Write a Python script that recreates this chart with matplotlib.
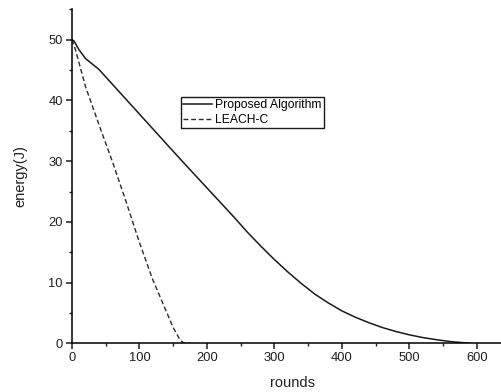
import matplotlib
matplotlib.use("Agg")
import matplotlib.pyplot as plt
from matplotlib.ticker import MultipleLocator

# energy remaining per round
proposed_rounds = [0, 3, 10, 20, 40, 80, 120, 160, 200, 240, 260, 280, 300, 320, 340,
                   360, 380, 400, 420, 440, 460, 480, 500, 520, 540, 560, 580, 590]
proposed_energy = [50.0, 49.8, 48.4, 46.9, 45.1, 40.2, 35.3, 30.4, 25.6, 20.8, 18.3,
                   16.0, 13.8, 11.75, 9.85, 8.1, 6.65, 5.35, 4.3, 3.4, 2.6, 1.95,
                   1.4, 0.95, 0.6, 0.3, 0.1, 0.0]

leach_rounds = [0, 5, 20, 40, 60, 80, 100, 120, 140, 150, 160, 165, 175]
leach_energy = [50.0, 48.4, 42.3, 36.0, 29.9, 23.4, 16.6, 10.4, 5.2, 2.6, 0.6, 0.1, 0.0]

plt.rcParams['font.family'] = ['Liberation Sans', 'DejaVu Sans']

fig = plt.figure(figsize=(5.02, 3.92), dpi=100)
ax = fig.add_axes([0.1434, 0.1242, 0.8546, 0.852])

ax.plot(proposed_rounds, proposed_energy, color='#1a1a1a', lw=1.1, label='Proposed Algorithm')
ax.plot(leach_rounds, leach_energy, color='#2a2a2a', lw=1.0, dashes=(3.5, 2.0), label='LEACH-C')

ax.set_xlim(0, 636)
ax.set_ylim(0, 55)
ax.xaxis.set_major_locator(MultipleLocator(100))
ax.xaxis.set_minor_locator(MultipleLocator(50))
ax.yaxis.set_major_locator(MultipleLocator(10))
ax.yaxis.set_minor_locator(MultipleLocator(5))

for side in ['top', 'right']:
    ax.spines[side].set_visible(False)
for side in ['left', 'bottom']:
    ax.spines[side].set_linewidth(1.1)

ax.tick_params(which='major', direction='out', length=4, width=1.1, labelsize=9.3, pad=2.5,
               colors='#1e1e1e')
ax.tick_params(which='minor', direction='out', length=2.5, width=1.0, colors='#1e1e1e')

ax.set_xlabel('rounds', fontsize=10.5, color='#222222')
ax.set_ylabel('energy(J)', fontsize=10.5, color='#222222')
ax.xaxis.set_label_coords(0.513, -0.098)
ax.yaxis.set_label_coords(-0.104, 0.5)

leg = ax.legend(loc='upper left', bbox_to_anchor=(181 / 502, 1 - 97 / 392),
                bbox_transform=fig.transFigure, borderaxespad=0, fontsize=8.7,
                handlelength=2.4, handletextpad=0.3, labelspacing=0.3, borderpad=0.15,
                fancybox=False, framealpha=1)
leg.get_frame().set_edgecolor('#1a1a1a')
leg.get_frame().set_linewidth(1.0)

fig.savefig('out.png', dpi=100)
